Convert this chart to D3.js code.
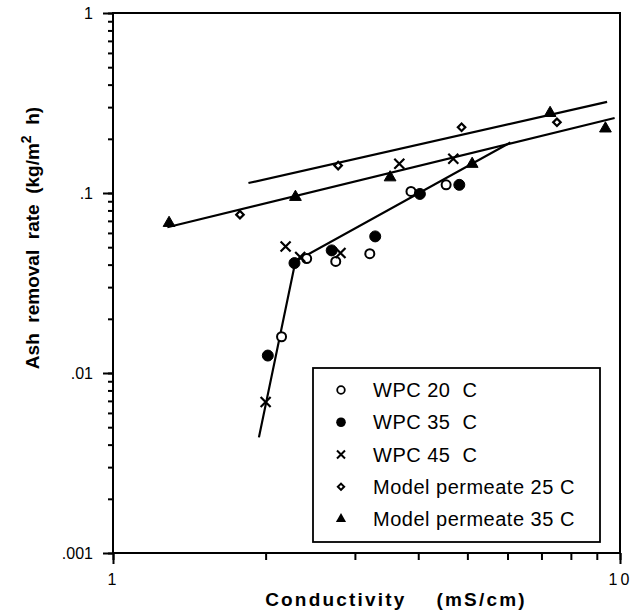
<!DOCTYPE html>
<html>
  <head>
    <title>Ash removal rate vs conductivity</title>
    <script src="https://d3js.org/d3.v7.min.js"></script>
  </head>
  <style>
    body { margin: 0; background: #fff; }
    svg { font-family: "Liberation Sans", Arial, sans-serif; }
    path.domain { stroke: none; }
    .tick > line { stroke: #000; stroke-width: 2; }
    .tick > text { fill: #000; font-size: 16px; }
  </style>
  <body>
    <svg width="632" height="615"></svg>

    <script>
      // values (x: mS/cm, y: kg/m2 h)
      var wpc20X = [2.15, 2.41, 2.75, 3.21, 3.87, 4.54];
      var wpc20Y = [0.0159, 0.0432, 0.0417, 0.046, 0.102, 0.111];
      var wpc35X = [2.02, 2.28, 2.70, 3.29, 4.03, 4.82];
      var wpc35Y = [0.0125, 0.0408, 0.048, 0.0574, 0.0988, 0.111];
      var wpc45X = [2.00, 2.19, 2.34, 2.81, 3.67, 4.69];
      var wpc45Y = [0.0069, 0.0505, 0.0441, 0.0464, 0.1455, 0.155];
      var perm25X = [1.78, 2.78, 4.87, 7.51];
      var perm25Y = [0.0758, 0.142, 0.232, 0.247];
      var perm35X = [1.29, 2.29, 3.52, 5.11, 7.28, 9.36];
      var perm35Y = [0.0681, 0.095, 0.122, 0.145, 0.278, 0.228];

      // fitted lines
      var fit25X = [1.85, 9.43];
      var fit25Y = [0.1136, 0.321];
      var fit35X = [1.28, 9.76];
      var fit35Y = [0.0645, 0.261];
      var fitWpcX = [1.94, 2.29, 6.08];
      var fitWpcY = [0.00439, 0.0417, 0.191];

      var yTicks = [0.001, 0.01, 0.1, 1];
      var yTickLabels = [".001", ".01", ".1", "1"];
      var xTicks = [1, 10];
      var xTickLabels = ["1", "10"];
      var legendLabels = ["WPC 20  C", "WPC 35  C", "WPC 45  C", "Model permeate 25 C", "Model permeate 35 C"];

      var svg = d3.select("svg");
      var xScale = d3.scaleLog().domain([1, 10]).range([113, 620]);
      var yScale = d3.scaleLog().domain([0.001, 1]).range([553, 13]);

      function pts(xs, ys) {
        return xs.map((d, i) => ({x: d, y: ys[i]}));
      }

      // minor ticks
      svg.append("g").attr("transform", "translate(113,0)")
        .call(d3.axisLeft(yScale).tickValues(yScale.ticks()).tickSize(5).tickFormat(""));
      svg.append("g").attr("transform", "translate(0,553)")
        .call(d3.axisBottom(xScale).tickValues(xScale.ticks()).tickSize(7).tickFormat(""));

      // major ticks + labels
      svg.append("g").attr("transform", "translate(113,0)")
        .call(d3.axisLeft(yScale).tickValues(yTicks).tickSize(10).tickPadding(10)
          .tickFormat((d, i) => yTickLabels[i]));
      svg.append("g").attr("id", "xAxisG").attr("transform", "translate(0,553)")
        .call(d3.axisBottom(xScale).tickValues(xTicks).tickSize(11).tickPadding(10)
          .tickFormat((d, i) => xTickLabels[i]));
      d3.selectAll("#xAxisG .tick > text").style("letter-spacing", "3px");

      // frame
      svg.append("rect")
        .attr("x", xScale(1)).attr("y", yScale(1))
        .attr("width", xScale(10) - xScale(1))
        .attr("height", yScale(0.001) - yScale(1))
        .attr("fill", "none").attr("stroke", "#000").attr("stroke-width", 2);

      var line = d3.line().x(d => xScale(d.x)).y(d => yScale(d.y));

      [[fit25X, fit25Y], [fit35X, fit35Y], [fitWpcX, fitWpcY]].forEach(f => {
        svg.append("path")
          .attr("d", line(pts(f[0], f[1])))
          .attr("fill", "none")
          .attr("stroke", "#000")
          .attr("stroke-width", 2.2);
      });

      function drawCircles(data, r, filled) {
        svg.append("g").selectAll("circle").data(data).enter()
          .append("circle")
            .attr("cx", d => xScale(d.x)).attr("cy", d => yScale(d.y))
            .attr("r", r)
            .attr("fill", filled ? "#000" : "#fff")
            .attr("stroke", "#000").attr("stroke-width", filled ? 1 : 2);
      }

      function drawCrosses(data, s) {
        svg.append("g").selectAll("path").data(data).enter()
          .append("path")
            .attr("d", d => {
              var cx = xScale(d.x), cy = yScale(d.y);
              return "M" + (cx - s) + "," + (cy - s) + "L" + (cx + s) + "," + (cy + s) +
                     "M" + (cx - s) + "," + (cy + s) + "L" + (cx + s) + "," + (cy - s);
            })
            .attr("stroke", "#000").attr("stroke-width", 2.2);
      }

      function drawSymbols(data, type, size, filled, rot) {
        svg.append("g").selectAll("path").data(data).enter()
          .append("path")
            .attr("transform", d => "translate(" + xScale(d.x) + "," + yScale(d.y) + ") rotate(" + rot + ")")
            .attr("d", d3.symbol().type(type).size(size))
            .attr("fill", filled ? "#000" : "#fff")
            .attr("stroke", "#000").attr("stroke-width", filled ? 1 : 2.2);
      }

      drawCircles(pts(wpc20X, wpc20Y), 4.5, false);
      drawCircles(pts(wpc35X, wpc35Y), 5.5, true);
      drawCrosses(pts(wpc45X, wpc45Y), 5);
      drawSymbols(pts(perm25X, perm25Y), d3.symbolSquare, 28, false, 45);
      drawSymbols(pts(perm35X, perm35Y), d3.symbolTriangle, 60, true, 0);

      // legend
      var lg = svg.append("g");
      lg.append("rect")
        .attr("x", 313).attr("y", 368).attr("width", 287).attr("height", 174)
        .attr("fill", "#fff").attr("stroke", "#000").attr("stroke-width", 1.8);

      var rowY = d3.scaleLinear().domain([0, 4]).range([390, 519]);
      var sx = 341, tx = 373;
      lg.append("circle").attr("cx", sx).attr("cy", rowY(0)).attr("r", 3.8)
        .attr("fill", "#fff").attr("stroke", "#000").attr("stroke-width", 1.8);
      lg.append("circle").attr("cx", sx).attr("cy", rowY(1)).attr("r", 4.8).attr("fill", "#000");
      lg.append("path")
        .attr("d", "M" + (sx - 4) + "," + (rowY(2) - 4) + "L" + (sx + 4) + "," + (rowY(2) + 4) +
                   "M" + (sx - 4) + "," + (rowY(2) + 4) + "L" + (sx + 4) + "," + (rowY(2) - 4))
        .attr("stroke", "#000").attr("stroke-width", 2);
      lg.append("path")
        .attr("transform", "translate(" + sx + "," + rowY(3) + ") rotate(45)")
        .attr("d", d3.symbol().type(d3.symbolSquare).size(20))
        .attr("fill", "#fff").attr("stroke", "#000").attr("stroke-width", 2);
      lg.append("path")
        .attr("transform", "translate(" + sx + "," + rowY(4) + ")")
        .attr("d", d3.symbol().type(d3.symbolTriangle).size(45))
        .attr("fill", "#000");

      lg.selectAll("text.lab").data(legendLabels).enter()
        .append("text")
          .attr("class", "lab")
          .attr("x", tx).attr("y", (d, i) => rowY(i) + 7)
          .attr("font-size", "20px")
          .style("letter-spacing", "0.5px")
          .style("white-space", "pre")
          .text(d => d);

      // axis titles
      svg.append("text")
        .attr("x", 396).attr("y", 606)
        .attr("text-anchor", "middle")
        .attr("font-size", "19px").attr("font-weight", "bold")
        .style("letter-spacing", "2.2px").style("white-space", "pre")
        .text("Conductivity    (mS/cm)");

      var yt = svg.append("text")
        .attr("transform", "translate(39,238) rotate(-90)")
        .attr("text-anchor", "middle")
        .attr("font-size", "19px").attr("font-weight", "bold")
        .style("white-space", "pre");
      yt.append("tspan").text("Ash  removal  rate  (kg/m");
      yt.append("tspan").attr("dy", -8).attr("font-size", "14px").text("2");
      yt.append("tspan").attr("dy", 8).text("  h)");
    </script>
  </body>
</html>
